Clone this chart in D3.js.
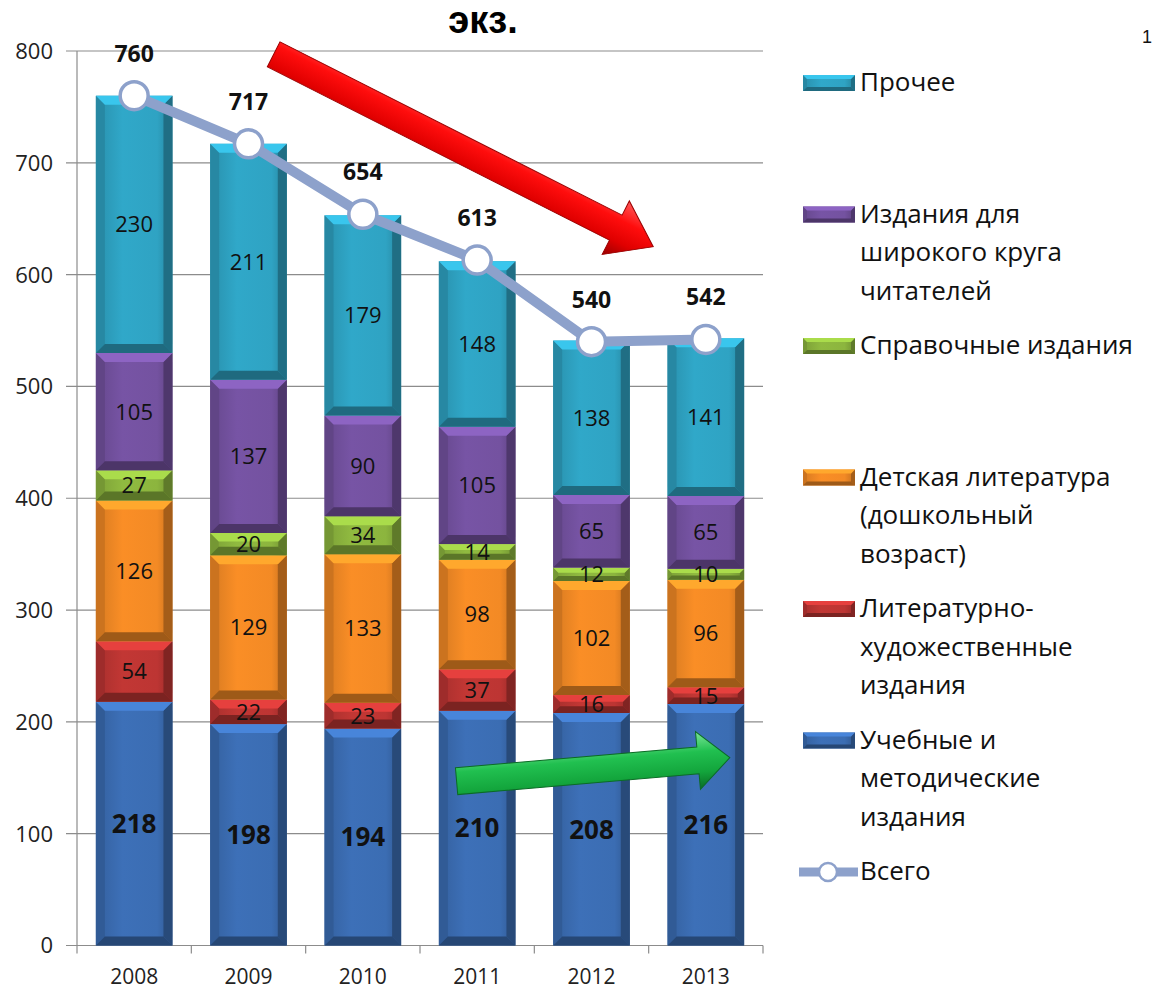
<!DOCTYPE html>
<html>
<head>
<meta charset="utf-8">
<script src="https://cdn.jsdelivr.net/npm/d3@7"></script>
<style>
  html, body { margin: 0; padding: 0; background: #fff; }
  svg { display: block; }
  text { font-family: "Open Sans", Lato, sans-serif; fill: #111; }
</style>
</head>
<body>
<svg id="chart" width="1152" height="991"></svg>
<script>
// Years on the category axis
const years = ["2008", "2009", "2010", "2011", "2012", "2013"];

// Stacked series, bottom to top
const uchebnye   = [218, 198, 194, 210, 208, 216];
const literatura = [54, 22, 23, 37, 16, 15];
const detskaya   = [126, 129, 133, 98, 102, 96];
const spravochnye = [27, 20, 34, 14, 12, 10];
const shirokogo  = [105, 137, 90, 105, 65, 65];
const prochee    = [230, 211, 179, 148, 138, 141];

// Line series: total per year
const vsego = [760, 717, 654, 613, 540, 542];

// Y axis ticks
const yTicks = [0, 100, 200, 300, 400, 500, 600, 700, 800];

const series = [
  { name: "Учебные и методические издания", lines: ["Учебные и", "методические", "издания"], values: uchebnye, color: "#3b6db3", bold: true },
  { name: "Литературно-художественные издания", lines: ["Литературно-", "художественные", "издания"], values: literatura, color: "#bd3533" },
  { name: "Детская литература (дошкольный возраст)", lines: ["Детская литература", "(дошкольный", "возраст)"], values: detskaya, color: "#f38a25" },
  { name: "Справочные издания", lines: ["Справочные издания"], values: spravochnye, color: "#8cb53e" },
  { name: "Издания для широкого круга читателей", lines: ["Издания для", "широкого круга", "читателей"], values: shirokogo, color: "#7452a0" },
  { name: "Прочее", lines: ["Прочее"], values: prochee, color: "#2fa3c3" }
];

const svg = d3.select("#chart");
const defs = svg.append("defs");

const plotLeft = 77, plotRight = 763, plotTop = 51, plotBottom = 945.5;

const x = d3.scaleBand().domain(years).range([plotLeft, plotRight])
  .paddingInner(0.33).paddingOuter(0.165);
const y = d3.scaleLinear().domain([0, 800]).range([plotBottom, plotTop]);
// continuous position along the category axis, in category steps
const xu = d3.scaleLinear().domain([0, years.length]).range([plotLeft, plotRight]);

// Gridlines
svg.append("g").selectAll("line").data(yTicks).join("line")
  .attr("x1", plotLeft - 11).attr("x2", plotRight)
  .attr("y1", d => y(d)).attr("y2", d => y(d))
  .attr("stroke", "#8c8c8c").attr("stroke-width", 1.2);

// Y axis line and tick labels
svg.append("line").attr("x1", plotLeft).attr("x2", plotLeft)
  .attr("y1", y(800)).attr("y2", y(0)).attr("stroke", "#8c8c8c").attr("stroke-width", 1.2);
svg.append("g").selectAll("text").data(yTicks).join("text")
  .attr("x", 53).attr("y", d => y(d)).attr("dy", "0.36em")
  .attr("text-anchor", "end").attr("font-size", 22).style("fill", "#222")
  .text(d => d);

// X axis ticks (band boundaries) and labels
const boundaries = d3.range(years.length + 1).map(i => xu(i));
svg.append("g").selectAll("line").data(boundaries).join("line")
  .attr("x1", d => d).attr("x2", d => d)
  .attr("y1", plotBottom).attr("y2", plotBottom + 8)
  .attr("stroke", "#8c8c8c").attr("stroke-width", 1.2);
svg.append("g").selectAll("text").data(years).join("text")
  .attr("x", d => x(d) + x.bandwidth() / 2).attr("y", 984)
  .attr("text-anchor", "middle").attr("font-size", 21).style("fill", "#222")
  .text(d => d);

// Bevelled rectangle used for bar segments and legend keys
function bevelRect(g, bx, by, w, h, color, bev) {
  const c = d3.color(color);
  const b = Math.max(1, Math.min(bev, h * 0.38, w * 0.3));
  const gid = "g" + Math.random().toString(36).slice(2, 9);
  const lg = defs.append("linearGradient").attr("id", gid)
    .attr("x1", 0).attr("x2", 1).attr("y1", 0).attr("y2", 0);
  lg.append("stop").attr("offset", "0%").attr("stop-color", c.darker(0.35));
  lg.append("stop").attr("offset", "35%").attr("stop-color", c.brighter(0.08));
  lg.append("stop").attr("offset", "80%").attr("stop-color", c);
  lg.append("stop").attr("offset", "100%").attr("stop-color", c.darker(0.6));
  g.append("rect").attr("x", bx).attr("y", by).attr("width", w).attr("height", h)
    .attr("fill", `url(#${gid})`);
  const poly = (pts, fill) => g.append("polygon")
    .attr("points", pts.map(p => p.join(",")).join(" ")).attr("fill", fill);
  poly([[bx, by], [bx + b, by + b], [bx + b, by + h - b], [bx, by + h]], c.darker(0.5));
  poly([[bx + w, by], [bx + w - b, by + b], [bx + w - b, by + h - b], [bx + w, by + h]], c.darker(1.1));
  poly([[bx, by], [bx + w, by], [bx + w - b, by + b], [bx + b, by + b]], c.brighter(0.55));
  poly([[bx, by + h], [bx + w, by + h], [bx + w - b, by + h - b], [bx + b, by + h - b]], c.darker(1.2));
}

// Stacked bars
const barsG = svg.append("g");
years.forEach((yr, i) => {
  let acc = 0;
  series.forEach(s => {
    const v = s.values[i];
    const y0 = y(acc), y1 = y(acc + v);
    bevelRect(barsG, x(yr), y1, x.bandwidth(), y0 - y1, s.color, 9);
    acc += v;
  });
});

// Segment value labels
const labelsG = svg.append("g");
years.forEach((yr, i) => {
  let acc = 0;
  series.forEach(s => {
    const v = s.values[i];
    labelsG.append("text")
      .attr("x", x(yr) + x.bandwidth() / 2)
      .attr("y", y(acc + v / 2)).attr("dy", "0.36em")
      .attr("text-anchor", "middle")
      .attr("font-size", s.bold ? 26 : 22)
      .attr("font-weight", s.bold ? 700 : 400)
      .style("fill", "#111")
      .text(v);
    acc += v;
  });
});

// Trend arrows, placed in category steps and axis values
function arrow(from, to, shaftHalf, headHalf, headLen, colors) {
  const x0 = xu(from[0]), y0 = y(from[1]), x1 = xu(to[0]), y1 = y(to[1]);
  const len = Math.hypot(x1 - x0, y1 - y0);
  const ang = Math.atan2(y1 - y0, x1 - x0) * 180 / Math.PI;
  const gid = "a" + Math.random().toString(36).slice(2, 9);
  const lg = defs.append("linearGradient").attr("id", gid)
    .attr("x1", 0).attr("x2", 0).attr("y1", 0).attr("y2", 1);
  lg.append("stop").attr("offset", "0%").attr("stop-color", colors[0]);
  lg.append("stop").attr("offset", "35%").attr("stop-color", colors[1]);
  lg.append("stop").attr("offset", "70%").attr("stop-color", colors[2]);
  lg.append("stop").attr("offset", "100%").attr("stop-color", colors[3]);
  const s = len - headLen;
  const pts = [[0, -shaftHalf], [s, -shaftHalf], [s, -headHalf], [len, 0],
               [s, headHalf], [s, shaftHalf], [0, shaftHalf]];
  svg.append("g").attr("transform", `translate(${x0},${y0}) rotate(${ang})`)
    .append("polygon").attr("points", pts.map(p => p.join(",")).join(" "))
    .attr("fill", `url(#${gid})`)
    .attr("stroke", colors[3]).attr("stroke-width", 1);
}
arrow([1.72, 797], [5.04, 625], 14, 30, 42, ["#ff5a5a", "#ff0d0d", "#e00000", "#9a0000"]);
arrow([3.32, 147], [5.71, 168], 13.5, 29, 32, ["#7ee69a", "#21c050", "#13a53c", "#0b6b25"]);

// Total line with markers
const pts = years.map((yr, i) => [x(yr) + x.bandwidth() / 2, y(vsego[i])]);
svg.append("path").attr("d", d3.line()(pts))
  .attr("fill", "none").attr("stroke", "#8da1cb").attr("stroke-width", 10)
  .attr("stroke-linejoin", "round");
svg.append("g").selectAll("circle").data(pts).join("circle")
  .attr("cx", d => d[0]).attr("cy", d => d[1]).attr("r", 14)
  .attr("fill", "#fff").attr("stroke", "#8da1cb").attr("stroke-width", 3.5);
svg.append("g").selectAll("text").data(vsego).join("text")
  .attr("x", (d, i) => pts[i][0]).attr("y", (d, i) => pts[i][1] - 34)
  .attr("text-anchor", "middle").attr("font-size", 23).attr("font-weight", 700)
  .style("fill", "#111").text(d => d);

// Title and page number
svg.append("text").attr("x", 483).attr("y", 33).attr("text-anchor", "middle")
  .style("font-family", "'Liberation Sans', Arial, sans-serif")
  .attr("font-size", 38).attr("font-weight", 700).style("fill", "#000").text("экз.");
svg.append("text").attr("x", 1142).attr("y", 43)
  .style("font-family", "'Liberation Sans', Arial, sans-serif")
  .attr("font-size", 18).style("fill", "#111").text("1");

// Legend (top to bottom: Прочее ... Учебные, then Всего)
const legendItems = series.slice().reverse();
const legG = svg.append("g");
legendItems.forEach((s, i) => {
  const base = 91 + i * 131.5;
  bevelRect(legG, 803, base - 16, 52, 16, s.color, 4);
  s.lines.forEach((ln, j) => {
    legG.append("text").attr("x", 860).attr("y", base + j * 38.5)
      .attr("font-size", 26).style("fill", "#111").text(ln);
  });
});
const lb = 91 + 6 * 131.5;
legG.append("line").attr("x1", 799).attr("x2", 858).attr("y1", lb - 8).attr("y2", lb - 8)
  .attr("stroke", "#8da1cb").attr("stroke-width", 9);
legG.append("circle").attr("cx", 828).attr("cy", lb - 8).attr("r", 9)
  .attr("fill", "#fff").attr("stroke", "#8da1cb").attr("stroke-width", 2.5);
legG.append("text").attr("x", 860).attr("y", lb).attr("font-size", 26)
  .style("fill", "#111").text("Всего");
</script>
</body>
</html>
